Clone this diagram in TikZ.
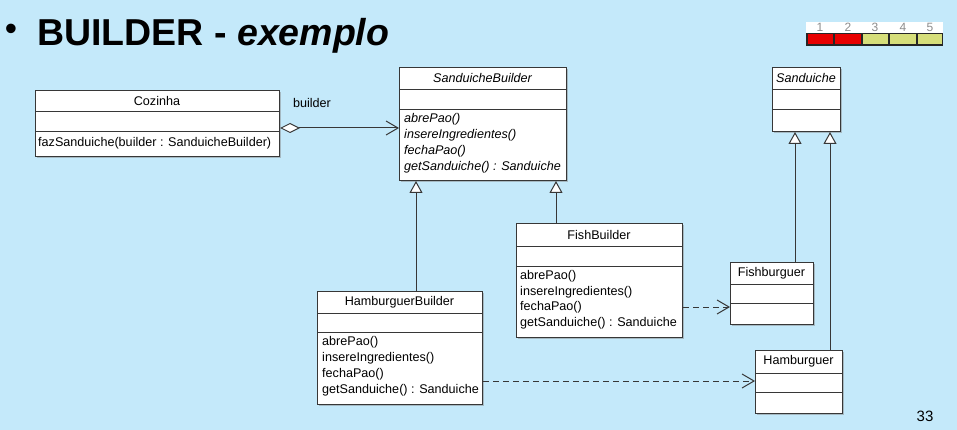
\documentclass[tikz,border=0pt]{standalone}
\usepackage{fontspec}
\setmainfont{Liberation Sans}
\usetikzlibrary{arrows.meta,calc,shadows}
\definecolor{bg}{RGB}{196,233,250}
\definecolor{boxline}{RGB}{55,55,55}
\definecolor{rred}{RGB}{232,0,0}
\definecolor{ryel}{RGB}{214,222,122}
\tikzset{
  classbox/.style={draw=boxline, line width=1pt, fill=white, inner sep=0pt,
    drop shadow={shadow xshift=1.5pt, shadow yshift=-1.5pt, opacity=0.45, fill=gray}},
  sepline/.style={draw=boxline, line width=1pt},
  ctitle/.style={font=\fontsize{12.6}{14}\selectfont, inner sep=0pt},
  ctitleit/.style={font=\fontsize{12.6}{14}\selectfont\itshape, inner sep=0pt},
  mt/.style={font=\fontsize{12.6}{14}\selectfont, inner sep=0pt, anchor=west},
  mtit/.style={font=\fontsize{12.6}{14}\selectfont\itshape, inner sep=0pt, anchor=west},
  gen/.style={draw=boxline, line width=1pt, -{Triangle[width=13pt,length=12pt,fill=white]}},
  dep/.style={draw=boxline, line width=1pt, dash pattern=on 6pt off 4pt, -{Straight Barb[length=12pt,width=14pt]}},
  aggr/.style={draw=boxline, line width=1pt, {Diamond[length=20pt,width=10pt,fill=white]}-{Straight Barb[length=12pt,width=14pt]}},
  rnum/.style={font=\fontsize{12}{12}\selectfont, text=gray!90, inner sep=0pt},
}
% name, x1, y1, x2, y2, sep1, sep2, title, title style
\newcommand{\uclass}[9]{%
  \node[classbox, minimum width={(#4-#2)*1pt}, minimum height={(#5-#3)*1pt}, anchor=north west] (#1) at (#2,#3) {};
  \draw[sepline] (#2,#6) -- (#4,#6);
  \draw[sepline] (#2,#7) -- (#4,#7);
  \node[#9] (#1-title) at ({(#2+#4)/2},{(#3+#6)/2}) {#8};
}
\begin{document}
\begin{tikzpicture}[x=1pt,y=-1pt]
\fill[bg] (0,0) rectangle (957,430);
\useasboundingbox (0,0) rectangle (957,430);

% title
\node[font=\fontsize{35}{35}\selectfont, inner sep=0pt] (bullet) at (11,32) {•};
\node[font=\fontsize{37.5}{38}\selectfont\bfseries, inner sep=0pt, anchor=base west] (title) at (37,46) {BUILDER - \textit{exemplo}};

% rating bar
\fill[white] (806,22) rectangle (943,33);
\fill[black!85] (806,33) rectangle (943,46);
\fill[rred] (807.5,34.5) rectangle (833,44.5);
\fill[rred] (835,34.5) rectangle (861,44.5);
\fill[ryel] (863,34.5) rectangle (888,44.5);
\fill[ryel] (890,34.5) rectangle (916,44.5);
\fill[ryel] (918,34.5) rectangle (941.5,44.5);
\node[rnum] (r1) at (820,27.5) {1};
\node[rnum] (r2) at (848,27.5) {2};
\node[rnum] (r3) at (875,27.5) {3};
\node[rnum] (r4) at (903,27.5) {4};
\node[rnum] (r5) at (930,27.5) {5};

% classes
\uclass{cz}{35}{90}{279}{156}{112}{132}{Cozinha}{ctitle}
\node[mt] (cz-m1) at (38,143) {fazSanduiche(builder : SanduicheBuilder)};

\uclass{sb}{399}{67}{566}{180}{90}{110}{SanduicheBuilder}{ctitleit}
\node[mtit] (sb-m1) at (404,119) {abrePao()};
\node[mtit] (sb-m2) at (404,135) {insereIngredientes()};
\node[mtit] (sb-m3) at (404,151) {fechaPao()};
\node[mtit] (sb-m4) at (404,167) {getSanduiche() : Sanduiche};

\uclass{sd}{772}{67}{840}{131}{90}{110}{Sanduiche}{ctitleit}

\uclass{fb}{516}{223}{682}{337}{246}{266}{FishBuilder}{ctitle}
\node[mt] (fb-m1) at (520,276) {abrePao()};
\node[mt] (fb-m2) at (520,292) {insereIngredientes()};
\node[mt] (fb-m3) at (520,307) {fechaPao()};
\node[mt] (fb-m4) at (520,323) {getSanduiche() : Sanduiche};

\uclass{hb}{317}{291}{482}{404}{313}{332}{HamburguerBuilder}{ctitle}
\node[mt] (hb-m1) at (322,342) {abrePao()};
\node[mt] (hb-m2) at (322,358) {insereIngredientes()};
\node[mt] (hb-m3) at (322,374) {fechaPao()};
\node[mt] (hb-m4) at (322,390) {getSanduiche() : Sanduiche};

\uclass{fs}{730}{262}{813}{324}{284}{303}{Fishburguer}{ctitle}
\uclass{hm}{755}{350}{842}{413}{373}{392}{Hamburguer}{ctitle}

% connectors
\draw[aggr] ($(cz.north east)+(0,38)$) -- ($(sb.north west)+(0,61)$);
\node[font=\fontsize{12.6}{14}\selectfont, inner sep=0pt] (lbl) at (312,103) {builder};

\draw[gen] ($(hb.north west)+(99,0)$) -- ($(sb.south west)+(17,0)$);
\draw[gen] ($(fb.north west)+(40,0)$) -- ($(sb.south west)+(157,0)$);
\draw[gen] ($(fs.north west)+(65,0)$) -- ($(sd.south west)+(23,0)$);
\draw[gen] ($(hm.north west)+(75,0)$) -- ($(sd.south west)+(58,0)$);

\draw[dep] ($(fb.north east)+(0,84)$) -- ($(fs.north west)+(0,45)$);
\draw[dep] ($(hb.north east)+(0,90)$) -- ($(hm.north west)+(0,31)$);

\node[font=\fontsize{15}{15}\selectfont, inner sep=0pt] (pg) at (925,416) {33};
\end{tikzpicture}
\end{document}
